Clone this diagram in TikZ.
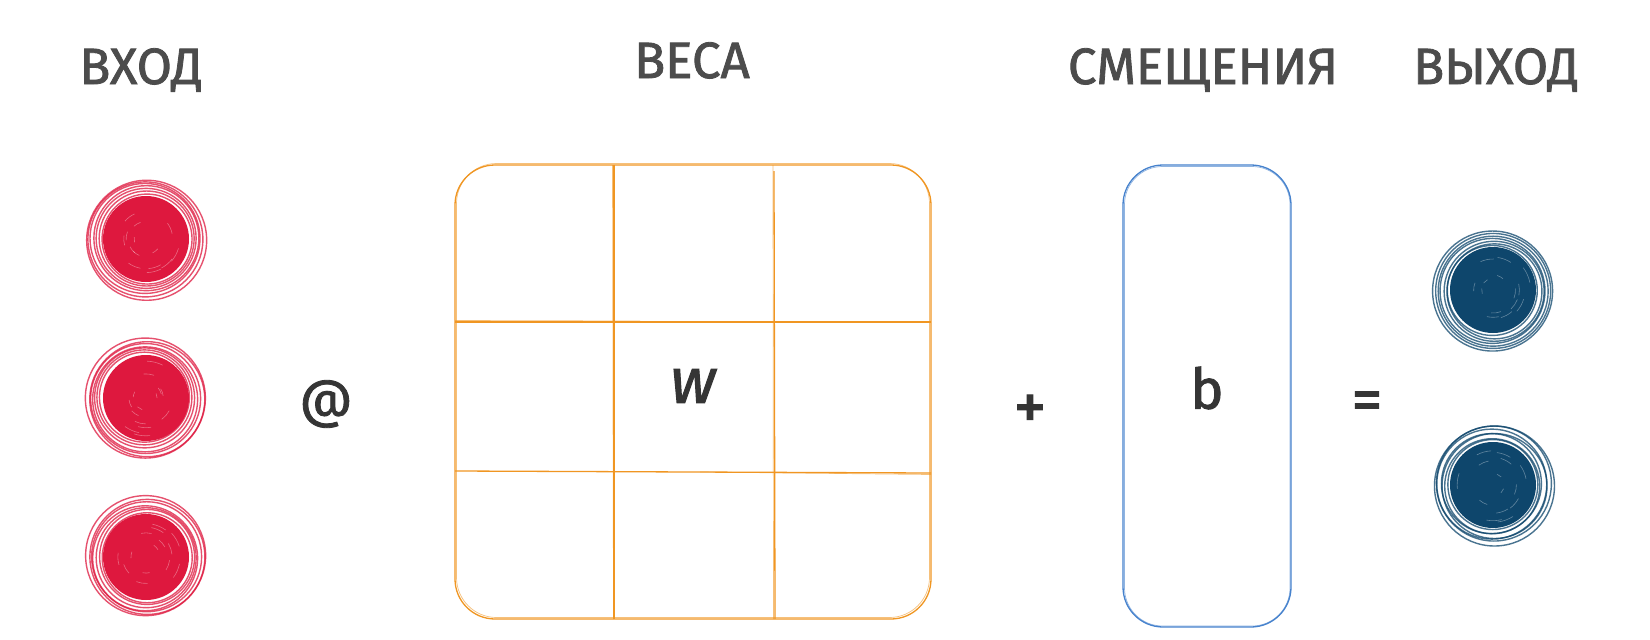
\documentclass[tikz,border=0pt]{standalone}
\usepackage{fontspec}
\setmainfont{Fira Sans}
\newfontfamily\handfont{Fira Sans}[FakeBold=1.6]
\definecolor{inred}{RGB}{222,24,62}
\definecolor{outblue}{RGB}{14,70,108}
\definecolor{wgrid}{RGB}{240,150,34}
\definecolor{bframe}{RGB}{70,130,205}
\definecolor{ink}{RGB}{76,76,76}
\tikzset{
  title/.style={text=ink, font=\handfont\fontsize{51}{55}\selectfont, anchor=base},
  sym/.style={text=ink!70!black, font=\handfont\fontsize{56}{60}\selectfont, inner sep=0pt},
  core/.style={circle, fill=#1, minimum size=86pt, inner sep=0pt},
  wline/.style={wgrid, line width=1.3pt},
  wline2/.style={wgrid, line width=0.7pt, opacity=0.6},
}
\newcommand\ringsAt[3]{%
  \pgfmathsetseed{#3}%
  \foreach \r in {45,47.5,50,52.5,55,57.5,60}{%
    \pgfmathsetmacro\dx{rand*1.6}\pgfmathsetmacro\dy{rand*1.6}%
    \draw[#2, line width=1.4pt, opacity=0.75] ([shift={(\dx,\dy)}]#1.center) circle[radius=\r];
  }%
  \foreach \k in {1,...,14}{%
    \pgfmathsetmacro\a{rand*180}\pgfmathsetmacro\rr{10+abs(rand)*28}%
    \draw[white, line width=0.6pt, opacity=0.35] ([shift={(\a:\rr)}]#1.center) arc[start angle=\a, delta angle=25, radius=\rr];
  }%
}
\begin{document}
\begin{tikzpicture}[x=1pt, y=-1pt]
\useasboundingbox (0,0) rectangle (1650,640);
\fill[white] (0,0) rectangle (1650,640);

% titles
\node[title] (tin)  at (141,84)  {ВХОД};
\node[title] (tw)   at (692,78)  {ВЕСА};
\node[title] (tb)   at (1203,84) {СМЕЩЕНИЯ};
\node[title] (tout) at (1496,84) {ВЫХОД};

% input dots
\node[core=inred] (x1) at (146,239) {};
\node[core=inred] (x2) at (146,398) {};
\node[core=inred] (x3) at (146,557) {};
\ringsAt{x1}{inred}{11}
\ringsAt{x2}{inred}{23}
\ringsAt{x3}{inred}{37}

% output dots
\node[core=outblue] (y1) at (1493,290) {};
\node[core=outblue] (y2) at (1493,485) {};
\ringsAt{y1}{outblue}{41}
\ringsAt{y2}{outblue}{53}

% weight matrix
\node[draw=wgrid, line width=1.3pt, rounded corners=40pt, minimum width=476pt, minimum height=454pt, inner sep=0pt] (W) at (693,392) {};
\draw[wline2, rounded corners=40pt] (456.5,163.5) rectangle (929.5,617.5);
\draw[wline] (614,165) -- (614,619);
\draw[wline2] (612.5,165) -- (613.5,619);
\draw[wline] (774,171) -- (775,619);
\draw[wline2] (773,165) -- (773.5,619);
\draw[wline] (455,322) -- (931,322);
\draw[wline2] (455,320.5) -- (640,321);
\draw[wline] (455,471) -- (931,473);
\draw[wline2] (700,472) -- (931,474.5);
\node[sym, font=\handfont\fontsize{64}{64}\selectfont\itshape] (w) at (693,386) {w};

% bias vector
\node[draw=bframe, line width=1.3pt, rounded corners=40pt, minimum width=168pt, minimum height=462pt, inner sep=0pt] (B) at (1207,396) {};
\draw[bframe, line width=0.7pt, opacity=0.6, rounded corners=38pt] (1124.5,166.5) rectangle (1290,626);
\node[sym] (b) at (1207,388) {b};

% operators
\node[sym, font=\handfont\fontsize{52}{54}\selectfont] (at) at (326,404) {@};
\node[sym, font=\handfont\fontsize{66}{66}\selectfont] (plus) at (1030,412) {+};
\node[sym, font=\handfont\fontsize{62}{62}\selectfont] (eq) at (1367,406) {=};
\end{tikzpicture}
\end{document}
